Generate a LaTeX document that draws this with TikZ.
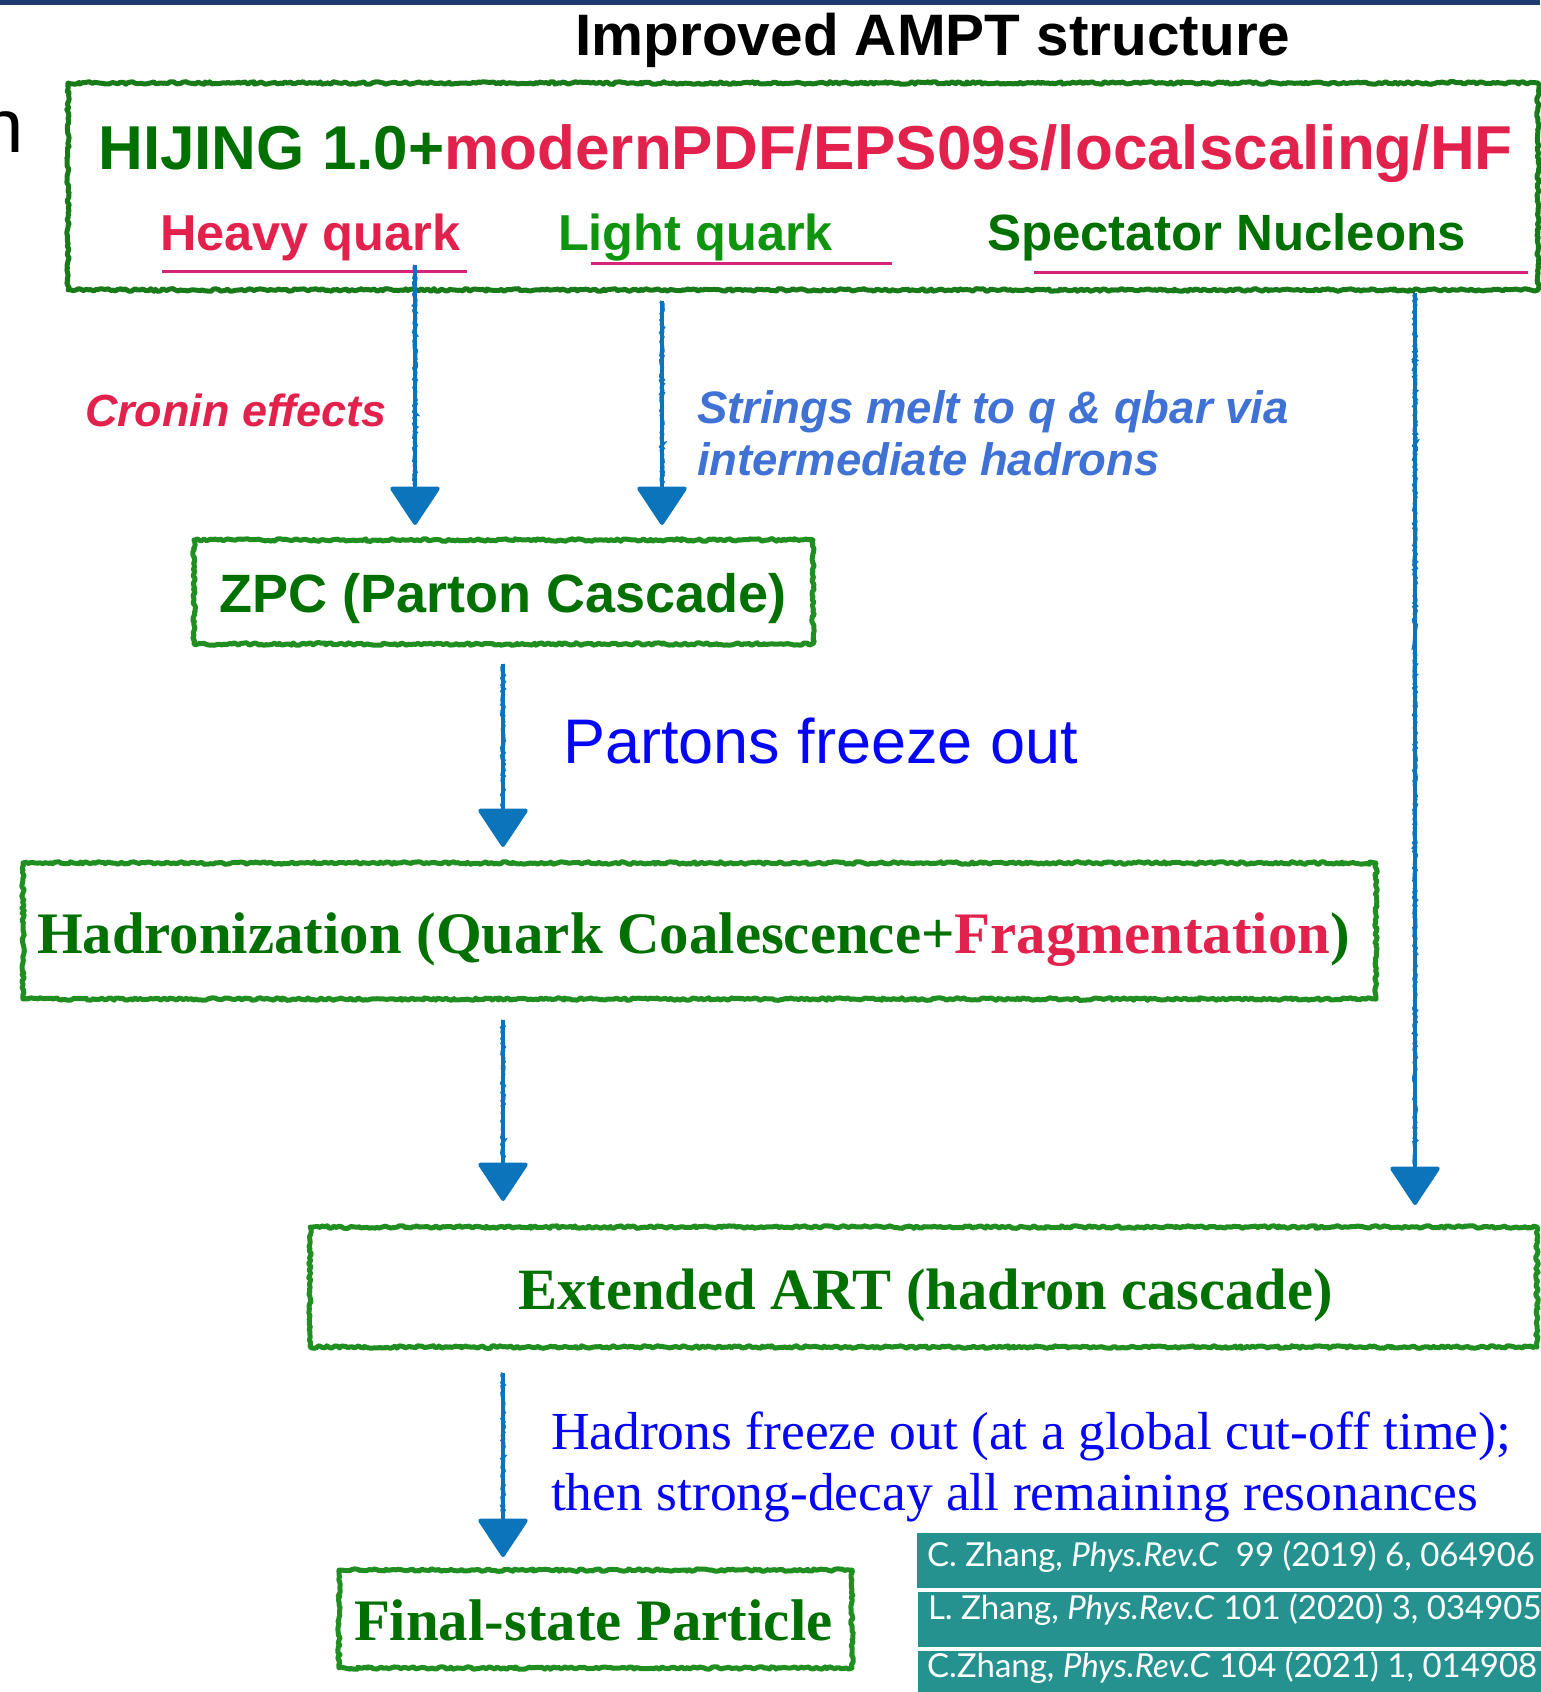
\documentclass[tikz,border=0pt]{standalone}
\usepackage{fontspec}
\setmainfont{Liberation Serif}
\setsansfont{Liberation Sans}
\newfontfamily\citefont{Lato}
\usetikzlibrary{arrows.meta,decorations.pathmorphing}
\newcommand\myfs[1]{\fontsize{#1}{#1}\selectfont}
\definecolor{navy}{RGB}{31,58,110}
\definecolor{topgreen}{RGB}{25,122,25}
\definecolor{boxgreen}{RGB}{32,142,32}
\definecolor{dkgreen}{RGB}{0,112,0}
\definecolor{ltgreen}{RGB}{15,148,15}
\definecolor{crimson}{RGB}{226,34,76}
\definecolor{pinkline}{RGB}{214,36,122}
\definecolor{arrowblue}{RGB}{12,116,186}
\definecolor{strblue}{RGB}{64,114,214}
\definecolor{pureblue}{RGB}{5,5,248}
\definecolor{citeteal}{RGB}{37,146,143}
\tikzset{
  roughbox/.style={draw=boxgreen, line width=5pt, line join=round, rectangle, inner sep=0pt,
    decorate, decoration={random steps, segment length=2.5pt, amplitude=1.3pt}},
  flow/.style={draw=arrowblue, line width=4pt, -{Triangle[width=52pt,length=40pt,round]}},
  roughshaft/.style={draw=arrowblue, line width=3.5pt, decorate,
      decoration={random steps, segment length=2pt, amplitude=1.2pt}},
  uline/.style={draw=pinkline, line width=3pt},
  txt/.style={inner sep=0pt, outer sep=0pt},
  citebox/.style={fill=citeteal, draw=none},
}
\begin{document}
\begin{tikzpicture}[x=1pt,y=-1pt]
\pgfmathsetseed{7}
\useasboundingbox (0,0) rectangle (1540,1692);
\fill[navy] (0,0) rectangle (1540,5);

% title and stray letter
\node[txt, anchor=base] (title) at (933,55) {\sffamily\bfseries\myfs{58.5}Improved AMPT structure};
\node[txt, anchor=base east] (nfrag) at (24,152) {\sffamily\myfs{76}n};

% top HIJING box
\node[roughbox, draw=topgreen, minimum width=1470pt, minimum height=207pt] (top) at (803,186.5) {};
\node[txt, anchor=base] (hijing) at (805.5,169) {\sffamily\bfseries\myfs{62}\textcolor{dkgreen}{HIJING 1.0+}\textcolor{crimson}{modernPDF/EPS09s/localscaling/HF}};
\node[txt, anchor=base west, text=crimson] (heavy) at (160,250) {\sffamily\bfseries\myfs{50.5}Heavy quark};
\node[txt, anchor=base west, text=ltgreen] (light) at (558,250) {\sffamily\bfseries\myfs{50.5}Light quark};
\node[txt, anchor=base west, text=dkgreen] (spect) at (987,250) {\sffamily\bfseries\myfs{51}Spectator Nucleons};
\coordinate (u1a) at (162,271); \coordinate (u1b) at (467,271);
\coordinate (u2a) at (591,263); \coordinate (u2b) at (892,263);
\coordinate (u3a) at (1034,272); \coordinate (u3b) at (1528,272);
\draw[uline] (u1a) -- (u1b);
\draw[uline] (u2a) -- (u2b);
\draw[uline] (u3a) -- (u3b);

% side labels
\node[txt, anchor=base west, text=crimson] (cronin) at (85,426) {\sffamily\bfseries\itshape\myfs{45}Cronin effects};
\node[txt, anchor=base west, text=strblue] (str1) at (697,423) {\sffamily\bfseries\itshape\myfs{45.5}Strings melt to q \& qbar via};
\node[txt, anchor=base west, text=strblue] (str2) at (697,475) {\sffamily\bfseries\itshape\myfs{45.5}intermediate hadrons};

% ZPC
\node[roughbox, minimum width=619pt, minimum height=104pt] (zpc) at (503.5,592) {};
\node[txt, anchor=base, text=dkgreen] (zpct) at (503,612) {\sffamily\bfseries\myfs{54}ZPC (Parton Cascade)};

\node[txt, anchor=base west, text=pureblue] (partons) at (563,763) {\sffamily\myfs{63}Partons freeze out};

% Hadronization
\node[roughbox, minimum width=1353pt, minimum height=136pt] (hadr) at (699.5,931) {};
\node[txt, anchor=base west] (hadrt) at (37,953) {\myfs{58.8}\bfseries\textcolor{dkgreen}{Hadronization (Quark Coalescence+}\textcolor{crimson}{Fragmentation}\textcolor{dkgreen}{)}};

% ART
\node[roughbox, minimum width=1227pt, minimum height=120pt] (art) at (923.5,1287) {};
\node[txt, anchor=base, text=dkgreen] (artt) at (925.5,1309) {\myfs{58.5}\bfseries Extended ART (hadron cascade)};

\node[txt, anchor=base west, text=pureblue] (hf1) at (551,1449) {\myfs{53.5}Hadrons freeze out (at a global cut-off time);};
\node[txt, anchor=base west, text=pureblue] (hf2) at (551,1510) {\myfs{53.5}then strong-decay all remaining resonances};

% Final
\node[roughbox, minimum width=513pt, minimum height=98pt] (final) at (595.5,1619) {};
\node[txt, anchor=base west, text=dkgreen] (finalt) at (354,1640) {\myfs{58.8}\bfseries Final-state Particle};

% citations
\fill[citebox] (917,1533) rectangle (1545,1588);
\fill[citebox] (918,1592) rectangle (1545,1647);
\fill[citebox] (918,1651) rectangle (1545,1700);
\node[txt, anchor=base west, text=white] (c1) at (927,1566) {\citefont\myfs{33}C. Zhang, \textit{Phys.Rev.C}\ \ 99 (2019) 6, 064906};
\node[txt, anchor=base west, text=white] (c2) at (928,1619) {\citefont\myfs{33}L. Zhang, \textit{Phys.Rev.C} 101 (2020) 3, 034905};
\node[txt, anchor=base west, text=white] (c3) at (927,1677) {\citefont\myfs{33}C.Zhang, \textit{Phys.Rev.C} 104 (2021) 1, 014908};

% arrows
\coordinate (a1s) at (415,265); \coordinate (a1e) at (415,525);
\coordinate (a2s) at (662,301); \coordinate (a2e) at (662,525);
\coordinate (a3s) at (1415,293); \coordinate (a3e) at (1415,1205);
\coordinate (a4s) at (503,664); \coordinate (a4e) at (503,847);
\coordinate (a5s) at (503,1020); \coordinate (a5e) at (503,1201);
\coordinate (a6s) at (503,1373); \coordinate (a6e) at (503,1557);
\foreach \k in {1,...,6}{
  \draw[flow] (a\k s) -- (a\k e);
  \draw[roughshaft] (a\k s) -- ([yshift=40pt]a\k e);
}
\end{tikzpicture}
\end{document}
